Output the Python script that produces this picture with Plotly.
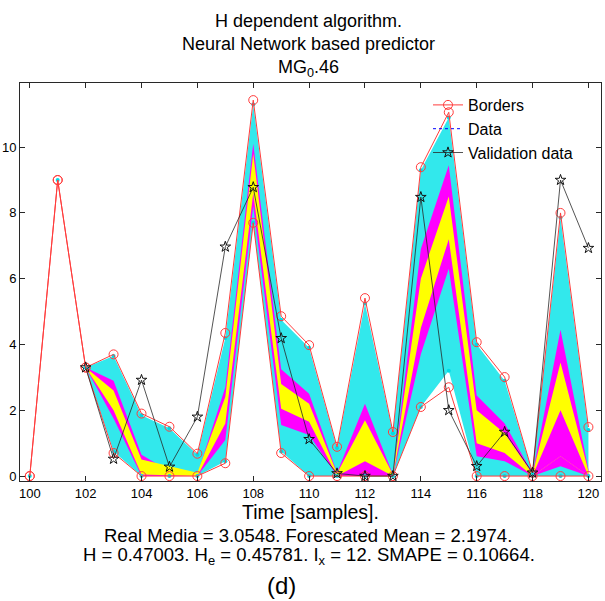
import plotly.graph_objects as go

# ---------------- data ----------------
x_all = list(range(100, 121))
x_fc = list(range(102, 121))

history = [0.0, 9.0]  # samples 100, 101 (shared by all series)

border_hi = [0.0, 9.0, 3.3, 3.7, 1.9, 1.5, 0.68, 4.35, 11.43, 4.86, 3.98, 0.89,
             5.41, 1.34, 9.39, 11.06, 4.07, 3.01, 0.1, 8.0, 1.49]
border_lo = [0.0, 9.0, 3.3, 0.7, 0.0, 0.0, 0.0, 0.39, 7.7, 0.7, 0.0, 0.0,
             0.0, 0.0, 2.1, 2.7, 0.0, 0.0, 0.0, 0.0, 0.0]

validation = [3.3, 0.52, 2.92, 0.28, 1.8, 6.97, 8.78, 4.19, 1.12, 0.08,
              0.0, 0.0, 8.48, 2.0, 0.3, 1.34, 0.1, 9.0, 6.93]

cyan_hi = [3.3, 3.65, 1.85, 1.45, 0.65, 4.2, 11.3, 4.75, 3.9, 0.85,
           5.25, 1.3, 9.3, 10.9, 4.0, 2.9, 0.1, 7.85, 1.4]
cyan_lo = [3.3, 0.75, 0.0, 0.0, 0.0, 0.45, 7.7, 0.75, 0.0, 0.0,
           0.0, 0.0, 2.1, 3.2, 0.0, 0.0, 0.0, 0.0, 0.0]

mag_hi = [3.3, 2.9, 0.65, 0.15, 0.05, 2.7, 10.1, 3.25, 2.5, 0.1,
          2.2, 0.05, 6.9, 9.45, 2.45, 1.6, 0.08, 4.45, 0.2]
mag_lo = [3.3, 1.75, 0.0, 0.0, 0.0, 1.1, 8.2, 1.55, 1.25, 0.0,
          0.0, 0.0, 3.7, 6.3, 0.6, 0.45, 0.0, 0.3, 0.0]

yel_hi = [3.3, 2.6, 0.5, 0.3, 0.1, 2.4, 9.8, 2.8, 2.2, 0.08,
          1.7, 0.05, 6.0, 8.5, 2.0, 1.3, 0.06, 3.45, 0.15]
yel_lo = [3.3, 2.0, 0.05, 0.02, 0.0, 1.6, 8.6, 2.05, 1.65, 0.0,
          0.0, 0.0, 4.5, 7.2, 1.0, 0.7, 0.0, 0.6, 0.0]

inner_hi = [3.3, 2.0, 0.05, 0.02, 0.0, 1.6, 8.6, 2.05, 1.65, 0.0,
            0.45, 0.0, 4.5, 7.2, 1.0, 0.7, 0.0, 2.0, 0.0]
inner_lo = [3.3, 2.0, 0.05, 0.02, 0.0, 1.6, 8.6, 2.05, 1.65, 0.0,
            0.0, 0.0, 4.5, 7.2, 1.0, 0.7, 0.0, 0.6, 0.0]

x_ticks = list(range(100, 121, 2))
y_ticks = [0, 2, 4, 6, 8, 10]

title_lines = ["H dependent algorithm.", "Neural Network based predictor",
               "MG<sub>0</sub>.46"]
x_label = "Time [samples]."
stats_1 = "Real Media = 3.0548. Forescated Mean = 2.1974."
stats_2 = "H = 0.47003. H<sub>e</sub> = 0.45781. I<sub>x</sub> = 12. SMAPE = 0.10664."
panel = "(d)"

FONT = "Liberation Sans, Arial, sans-serif"

fig = go.Figure()


def band(hi, lo, color):
    fig.add_trace(go.Scatter(
        x=x_fc + x_fc[::-1], y=hi + lo[::-1], fill="toself",
        fillcolor=color, mode="lines", line=dict(width=0, color=color),
        showlegend=False, hoverinfo="skip"))


band(cyan_hi, cyan_lo, "rgb(50,232,236)")
band(mag_hi, mag_lo, "rgb(255,0,255)")
band(yel_hi, yel_lo, "rgb(255,255,0)")
band(inner_hi, inner_lo, "rgb(255,0,255)")

# cyan data points
fig.add_trace(go.Scatter(
    x=x_all[:2] + x_fc + x_fc, y=history + cyan_hi + cyan_lo, mode="markers",
    marker=dict(color="rgb(0,220,230)", size=4), showlegend=False,
    hoverinfo="skip"))

red = "rgb(255,60,60)"
fig.add_trace(go.Scatter(
    x=x_all, y=border_hi, mode="lines+markers", name="Borders",
    line=dict(color=red, width=1),
    marker=dict(symbol="circle-open", size=9, color=red, line=dict(width=1))))
fig.add_trace(go.Scatter(
    x=x_all, y=border_lo, mode="lines+markers", name="Borders", showlegend=False,
    line=dict(color=red, width=1),
    marker=dict(symbol="circle-open", size=9, color=red, line=dict(width=1))))

fig.add_trace(go.Scatter(
    x=[None], y=[None], mode="lines", name="Data",
    line=dict(color="blue", width=1, dash="dot")))

fig.add_trace(go.Scatter(
    x=x_fc, y=validation, mode="lines+markers", name="Validation data",
    line=dict(color="rgb(40,40,40)", width=0.8),
    marker=dict(symbol="star-open", size=8, color="rgb(20,20,20)",
                line=dict(width=1))))

annotations = []
for txt, py in zip(title_lines, [21, 44, 68]):
    annotations.append(dict(text=txt, x=0.497, y=(481 - py) / 398,
                            xref="paper", yref="paper", showarrow=False,
                            xanchor="center", yanchor="middle",
                            font=dict(size=18, color="black", family=FONT)))
for txt, py, px, fs in [(x_label, 512, 310, 19.5), (stats_1, 535, 308, 18.5),
                        (stats_2, 556, 309, 18.5), (panel, 585, 281, 24)]:
    annotations.append(dict(text=txt, x=(px - 20) / 581, y=(481 - py) / 398,
                            xref="paper", yref="paper", showarrow=False,
                            xanchor="center", yanchor="middle",
                            font=dict(size=fs, color="black", family=FONT)))

axis_common = dict(showline=True, linecolor="rgb(40,40,40)", linewidth=1,
                   mirror="ticks", ticks="inside", ticklen=5,
                   tickcolor="rgb(40,40,40)", showgrid=False, zeroline=False,
                   automargin=False,
                   tickfont=dict(size=13, color="black", family=FONT))

fig.update_layout(
    width=605, height=601,
    margin=dict(l=20, r=4, t=83, b=120),
    paper_bgcolor="white", plot_bgcolor="white",
    font=dict(family=FONT, color="black"),
    xaxis=dict(range=[99.65, 120.45], tickvals=x_ticks, **axis_common),
    yaxis=dict(range=[-0.15, 11.95], tickvals=y_ticks, **axis_common),
    legend=dict(x=(428 - 20) / 581, y=(481 - 88) / 398, xanchor="left",
                yanchor="top", bgcolor="rgba(0,0,0,0)", borderwidth=0,
                font=dict(size=16, color="black", family=FONT)),
    annotations=annotations,
)

fig.write_html("out.html",
               config={"displayModeBar": False},
               post_script="document.body.style.margin='0px';"
                           "document.body.style.overflow='hidden';")
